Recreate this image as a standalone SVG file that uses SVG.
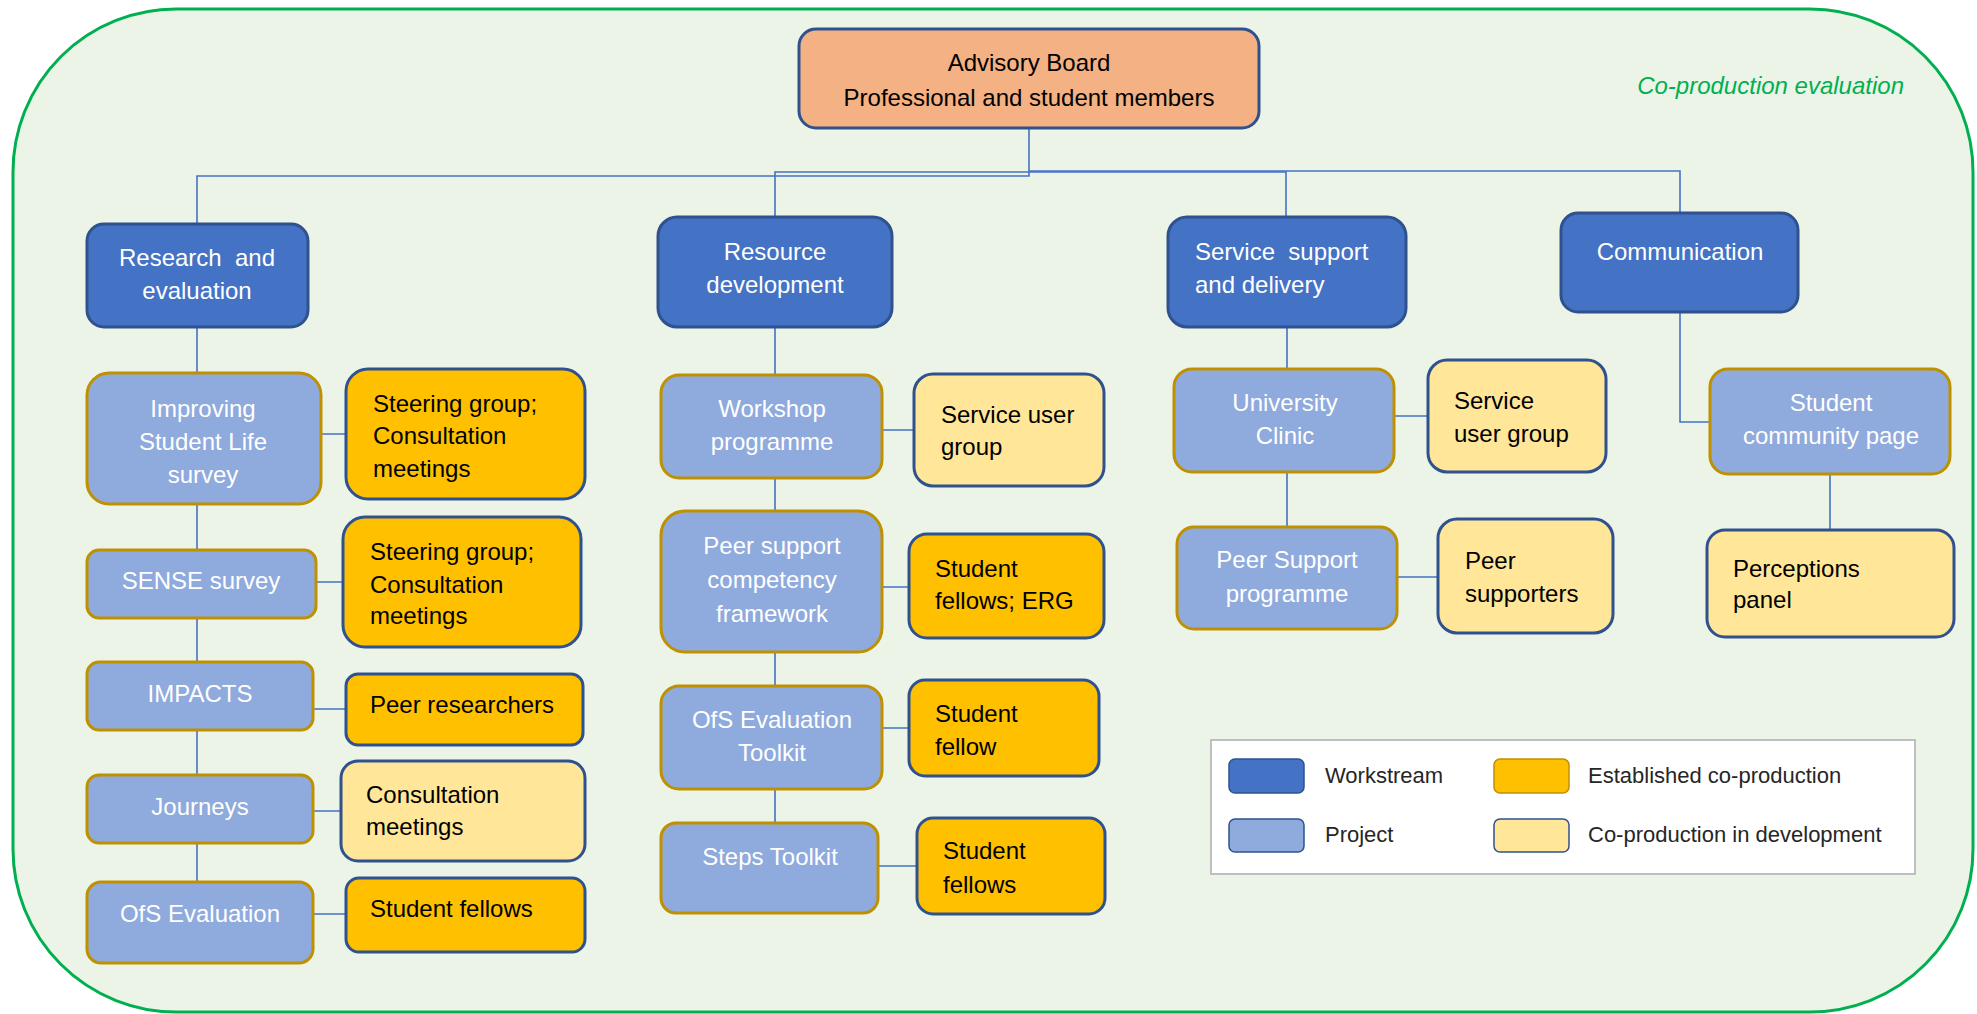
<svg xmlns="http://www.w3.org/2000/svg" width="1977" height="1014" viewBox="0 0 1977 1014">
<style>
text{font-family:"Liberation Sans",Arial,sans-serif;font-size:24px;white-space:pre}
.c{text-anchor:middle}
.w{fill:#FFFFFF}
.k{fill:#000000}
.ws{fill:#4472C4;stroke:#2F528F;stroke-width:3}
.pr{fill:#8FAADC;stroke:#BF9000;stroke-width:3}
.est{fill:#FFC000;stroke:#2F528F;stroke-width:3}
.dev{fill:#FFE699;stroke:#2F528F;stroke-width:3}
.adv{fill:#F4B183;stroke:#2F528F;stroke-width:3}
.conn path{fill:none;stroke:#4472C4;stroke-width:1.6}
.lg{font-size:22px;fill:#262626}
</style>
<rect x="13" y="9" width="1960" height="1003" rx="163" ry="163" fill="#ECF4E8" stroke="#00B050" stroke-width="3"/>
<text x="1904" y="94" text-anchor="end" style="font-style:italic" fill="#00B050">Co-production evaluation</text>

<g id="connectors" class="conn">
<path d="M1029,128 V176 H197 V224"/>
<path d="M775,217 V172 H1286 V217"/>
<path d="M1029,171 H1680 V213"/>
<path d="M197,327 V373 M197,504 V550 M197,618 V662 M197,730 V775 M197,843 V882"/>
<path d="M321,434 H346 M316,582 H343 M313,709 H346 M313,811 H341 M313,914 H346"/>
<path d="M775,327 V375 M775,478 V511 M775,652 V686 M775,789 V823"/>
<path d="M882,430 H914 M882,587 H909 M882,728 H909 M878,866 H917"/>
<path d="M1287,327 V369 M1287,472 V527 M1394,416 H1428 M1397,577 H1438"/>
<path d="M1680,312 V422 H1710 M1830,474 V530"/>
</g>

<g id="advisory-board">
<rect class="adv" x="799" y="29" width="460" height="99" rx="17"/>
<text class="c k" x="1029" y="71">Advisory Board</text>
<text class="c k" x="1029" y="106">Professional and student members</text>
</g>

<g id="ws-research">
<rect class="ws" x="87" y="224" width="221" height="103" rx="17"/>
<text class="c w" x="197" y="266" xml:space="preserve">Research  and</text>
<text class="c w" x="197" y="299">evaluation</text>
</g>
<g id="ws-resource">
<rect class="ws" x="658" y="217" width="234" height="110" rx="19"/>
<text class="c w" x="775" y="260">Resource</text>
<text class="c w" x="775" y="293">development</text>
</g>
<g id="ws-service">
<rect class="ws" x="1168" y="217" width="238" height="110" rx="19"/>
<text class="w" x="1195" y="260" xml:space="preserve">Service  support</text>
<text class="w" x="1195" y="293">and delivery</text>
</g>
<g id="ws-communication">
<rect class="ws" x="1561" y="213" width="237" height="99" rx="17"/>
<text class="c w" x="1680" y="260">Communication</text>
</g>

<g id="p-improving">
<rect class="pr" x="87" y="373" width="234" height="131" rx="22"/>
<text class="c w" x="203" y="417">Improving</text>
<text class="c w" x="203" y="450">Student Life</text>
<text class="c w" x="203" y="483">survey</text>
</g>
<g id="c-steering1">
<rect class="est" x="346" y="369" width="239" height="130" rx="22"/>
<text class="k" x="373" y="412">Steering group;</text>
<text class="k" x="373" y="444">Consultation</text>
<text class="k" x="373" y="477">meetings</text>
</g>
<g id="p-sense">
<rect class="pr" x="87" y="550" width="229" height="68" rx="12"/>
<text class="c w" x="201" y="589">SENSE survey</text>
</g>
<g id="c-steering2">
<rect class="est" x="343" y="517" width="238" height="130" rx="22"/>
<text class="k" x="370" y="560">Steering group;</text>
<text class="k" x="370" y="593">Consultation</text>
<text class="k" x="370" y="624">meetings</text>
</g>
<g id="p-impacts">
<rect class="pr" x="87" y="662" width="226" height="68" rx="12"/>
<text class="c w" x="200" y="702">IMPACTS</text>
</g>
<g id="c-peer-researchers">
<rect class="est" x="346" y="674" width="237" height="71" rx="12"/>
<text class="k" x="370" y="713">Peer researchers</text>
</g>
<g id="p-journeys">
<rect class="pr" x="87" y="775" width="226" height="68" rx="12"/>
<text class="c w" x="200" y="815">Journeys</text>
</g>
<g id="c-consultation">
<rect class="dev" x="341" y="761" width="244" height="100" rx="17"/>
<text class="k" x="366" y="803">Consultation</text>
<text class="k" x="366" y="835">meetings</text>
</g>
<g id="p-ofs-evaluation">
<rect class="pr" x="87" y="882" width="226" height="81" rx="14"/>
<text class="c w" x="200" y="922">OfS Evaluation</text>
</g>
<g id="c-student-fellows1">
<rect class="est" x="346" y="878" width="239" height="74" rx="13"/>
<text class="k" x="370" y="917">Student fellows</text>
</g>

<g id="p-workshop">
<rect class="pr" x="661" y="375" width="221" height="103" rx="18"/>
<text class="c w" x="772" y="417">Workshop</text>
<text class="c w" x="772" y="450">programme</text>
</g>
<g id="c-service-user1">
<rect class="dev" x="914" y="374" width="190" height="112" rx="19"/>
<text class="k" x="941" y="423">Service user</text>
<text class="k" x="941" y="455">group</text>
</g>
<g id="p-peer-framework">
<rect class="pr" x="661" y="511" width="221" height="141" rx="24"/>
<text class="c w" x="772" y="554">Peer support</text>
<text class="c w" x="772" y="588">competency</text>
<text class="c w" x="772" y="622">framework</text>
</g>
<g id="c-fellows-erg">
<rect class="est" x="909" y="534" width="195" height="104" rx="18"/>
<text class="k" x="935" y="577">Student</text>
<text class="k" x="935" y="609">fellows; ERG</text>
</g>
<g id="p-ofs-toolkit">
<rect class="pr" x="661" y="686" width="221" height="103" rx="18"/>
<text class="c w" x="772" y="728">OfS Evaluation</text>
<text class="c w" x="772" y="761">Toolkit</text>
</g>
<g id="c-student-fellow">
<rect class="est" x="909" y="680" width="190" height="96" rx="16"/>
<text class="k" x="935" y="722">Student</text>
<text class="k" x="935" y="755">fellow</text>
</g>
<g id="p-steps">
<rect class="pr" x="661" y="823" width="217" height="90" rx="15"/>
<text class="c w" x="770" y="865">Steps Toolkit</text>
</g>
<g id="c-student-fellows2">
<rect class="est" x="917" y="818" width="188" height="96" rx="16"/>
<text class="k" x="943" y="859">Student</text>
<text class="k" x="943" y="893">fellows</text>
</g>

<g id="p-clinic">
<rect class="pr" x="1174" y="369" width="220" height="103" rx="18"/>
<text class="c w" x="1285" y="411">University</text>
<text class="c w" x="1285" y="444">Clinic</text>
</g>
<g id="c-service-user2">
<rect class="dev" x="1428" y="360" width="178" height="112" rx="19"/>
<text class="k" x="1454" y="409">Service</text>
<text class="k" x="1454" y="442">user group</text>
</g>
<g id="p-peer-support-programme">
<rect class="pr" x="1177" y="527" width="220" height="102" rx="17"/>
<text class="c w" x="1287" y="568">Peer Support</text>
<text class="c w" x="1287" y="602">programme</text>
</g>
<g id="c-peer-supporters">
<rect class="dev" x="1438" y="519" width="175" height="114" rx="19"/>
<text class="k" x="1465" y="569">Peer</text>
<text class="k" x="1465" y="602">supporters</text>
</g>

<g id="p-community-page">
<rect class="pr" x="1710" y="369" width="240" height="105" rx="18"/>
<text class="c w" x="1831" y="411">Student</text>
<text class="c w" x="1831" y="444">community page</text>
</g>
<g id="c-perceptions">
<rect class="dev" x="1707" y="530" width="247" height="107" rx="18"/>
<text class="k" x="1733" y="577">Perceptions</text>
<text class="k" x="1733" y="608">panel</text>
</g>

<g id="legend">
<rect x="1211" y="740" width="704" height="134" fill="#FFFFFF" stroke="#BFBFBF" stroke-width="2"/>
<rect x="1229" y="759" width="75" height="34" rx="6" fill="#4472C4" stroke="#2F528F" stroke-width="1.5"/>
<text class="lg" x="1325" y="783">Workstream</text>
<rect x="1229" y="819" width="75" height="33" rx="6" fill="#8FAADC" stroke="#2F528F" stroke-width="1.5"/>
<text class="lg" x="1325" y="842">Project</text>
<rect x="1494" y="759" width="75" height="34" rx="6" fill="#FFC000" stroke="#BF9000" stroke-width="1.5"/>
<text class="lg" x="1588" y="783">Established co-production</text>
<rect x="1494" y="819" width="75" height="33" rx="6" fill="#FFE699" stroke="#2F528F" stroke-width="1.5"/>
<text class="lg" x="1588" y="842">Co-production in development</text>
</g>
</svg>
